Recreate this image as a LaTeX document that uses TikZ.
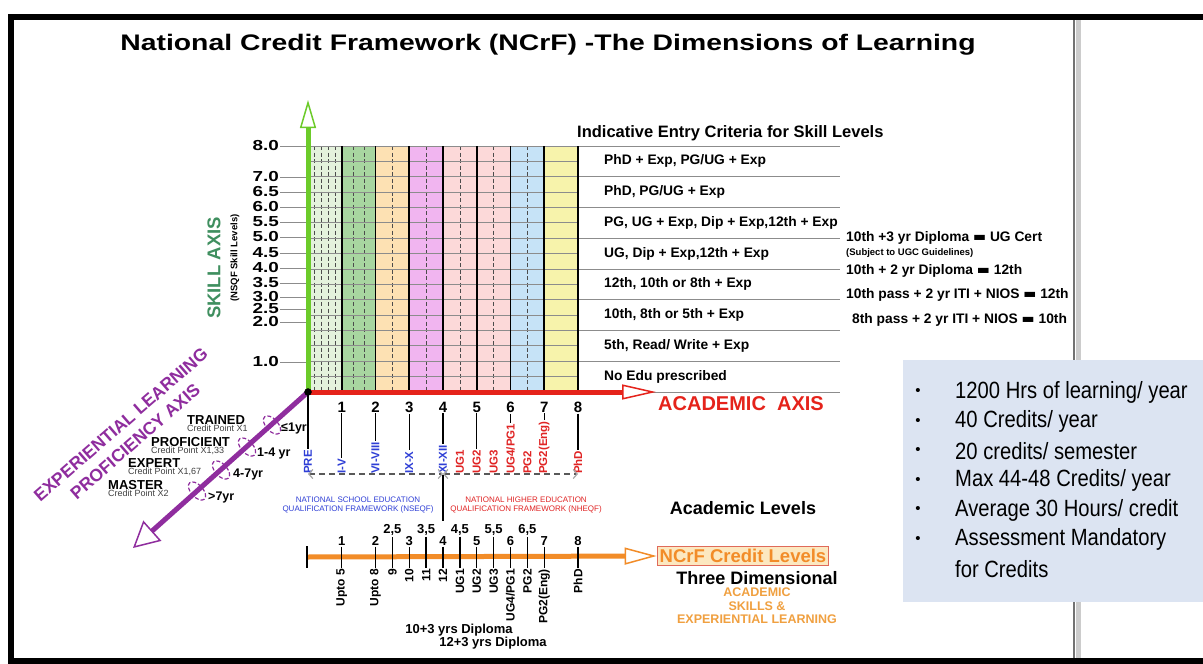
\documentclass[tikz,border=0pt]{standalone}
\usepackage{fontspec}
\setmainfont{Liberation Sans}
\newfontfamily\narrowfont[FakeStretch=0.86]{Liberation Sans}
\newfontfamily\widefont[FakeStretch=1.26]{Liberation Sans}
\newfontfamily\lvlfont[FakeStretch=1.3]{Liberation Sans}
\newfontfamily\symfont{DejaVu Sans}
\usetikzlibrary{arrows.meta,positioning}

\definecolor{axisgreen}{HTML}{6CCB2A}
\definecolor{skillgreen}{HTML}{3F8F5F}
\definecolor{axisred}{HTML}{E5231B}
\definecolor{axispurple}{HTML}{8F2D9E}
\definecolor{axisorange}{HTML}{F28C28}
\definecolor{orangetext}{HTML}{F0A040}
\definecolor{schoolblue}{HTML}{2F3FD6}
\definecolor{higherred}{HTML}{E02424}
\definecolor{boxblue}{HTML}{DCE4F2}
\definecolor{ncrffill}{HTML}{FCE8C0}
\definecolor{ncrfdraw}{HTML}{E06A5A}
\definecolor{col0}{HTML}{E4F2DC}
\definecolor{col1}{HTML}{A8D6A0}
\definecolor{col2}{HTML}{FDE1B3}
\definecolor{col3}{HTML}{F1B5F0}
\definecolor{col4}{HTML}{FCD9D9}
\definecolor{col5}{HTML}{FCD9D9}
\definecolor{col6}{HTML}{C6E3F7}
\definecolor{col7}{HTML}{F7F3AB}

\newcommand\fsz[1]{\fontsize{#1}{#1}\selectfont}
\newcommand\eqbar{{\symfont\char"25AC}}

\begin{document}
\begin{tikzpicture}[x=1pt,y=-1pt]
\tikzstyle{axis}=[line width=5pt]
\tikzstyle{gridline}=[black!45,line width=0.8pt]
\tikzstyle{griddash}=[black!70,line width=0.7pt,dash pattern=on 4pt off 2.5pt]
\tikzstyle{lvl}=[anchor=east,font=\lvlfont\fsz{14.5}\bfseries,inner sep=1pt]
\tikzstyle{crit}=[anchor=west,font=\fsz{13.8}\bfseries,inner sep=0pt]
\tikzstyle{num}=[font=\fsz{15}\bfseries,inner sep=1pt]
\tikzstyle{cnum}=[font=\fsz{13}\bfseries,inner sep=1pt]
\tikzstyle{vlabel}=[rotate=90,font=\fsz{11.5}\bfseries,inner sep=1pt]
\tikzstyle{tick}=[black,line width=1.3pt]
\tikzstyle{ring}=[axispurple,line width=1.2pt,dash pattern=on 4pt off 2pt]
\tikzstyle{expname}=[anchor=west,font=\fsz{13}\bfseries,inner sep=0pt]
\tikzstyle{credit}=[anchor=north west,font=\fsz{9},text=black!75,inner sep=0pt]
\tikzstyle{yrs}=[anchor=west,font=\fsz{12.5}\bfseries,inner sep=0pt]
\tikzstyle{fwline}=[black!65,line width=1.2pt,dash pattern=on 6pt off 4pt,
  {Straight Barb[length=4pt,width=9pt,color=black!35]}-{Straight Barb[length=4pt,width=9pt,color=black!35]}]
\tikzstyle{fwtext}=[align=center,font=\fontsize{8}{9}\selectfont,inner sep=0pt]
\tikzstyle{bulltext}=[anchor=west,font=\narrowfont\fsz{23.5},inner sep=0pt]

\useasboundingbox (0,0) rectangle (1203,664);
% slide frame
\fill[white] (0,0) rectangle (1203,664);
\draw[line width=6pt] (1203,17) -- (11,17) -- (11,661) -- (1203,661);
\draw[black!20,line width=5pt] (1078,20) -- (1078,658);
\draw[black!55,line width=1.5pt] (1074,20) -- (1074,658);
\node[font=\widefont\fsz{22.5}\bfseries] (title) at (548,45) {National Credit Framework (NCrF) -The Dimensions of Learning};

% coloured columns of the grid
\foreach \c [count=\i from 0] in {col0,col1,col2,col3,col4,col5,col6,col7}
  \fill[\c] ({308+33.75*\i},146) rectangle ({341.75+33.75*\i},392);
\foreach \xx in {314.75,321.5,328.25,335,353,364.25,392.4,426.1,459.9,493.6,527.4}
  \draw[griddash] (\xx,146) -- (\xx,392);
\foreach \i in {0,...,16}
  \draw[gridline] (308,{146+15.375*\i}) -- (578,{146+15.375*\i});
\foreach \i in {0,...,8}
  \draw[gridline] (578,{146+30.75*\i}) -- (840,{146+30.75*\i});
\foreach \k in {1,...,8}
  \draw[line width=1.8pt] ({308+33.75*\k},146) -- ({308+33.75*\k},392);

% skill levels
\coordinate (O) at (308,392);
\foreach \v/\yy [count=\n] in {8.0/146,7.0/177,6.5/192,6.0/207,5.5/222,5.0/237,4.5/253,
    4.0/268,3.5/283,3.0/297,2.5/309,2.0/322,1.0/362}{
  \node[lvl] (s\n) at (280,\yy) {\v};
  \draw[gridline] (s\n) -- (s\n -| O);
}
\node[rotate=90,font=\fsz{18.5}\bfseries,text=skillgreen] (skill) at (214,268) {SKILL AXIS};
\node[rotate=90,font=\fsz{9.5}\bfseries] (nsqf) at (235,258) {(NSQF Skill Levels)};

% entry criteria
\node[anchor=west,font=\fsz{16.5}\bfseries,inner sep=0pt] (crit) at (577,133) {Indicative Entry Criteria for Skill Levels};
\foreach \t [count=\i] in {{PhD + Exp, PG/UG + Exp},{PhD, PG/UG + Exp},
    {PG, UG + Exp, Dip + Exp,12th + Exp},{UG, Dip + Exp,12th + Exp},
    {12th, 10th or 8th + Exp},{10th, 8th or 5th + Exp},{5th, Read/ Write + Exp},
    {No Edu prescribed}}
  \node[crit] (c\i) at (604,{130.65+30.75*\i}) {\t};
\node[crit] (n1) at (846,238) {10th +3 yr Diploma \eqbar{} UG Cert};
\node[crit,font=\fsz{9.5}\bfseries] (n2) at (846,253) {(Subject to UGC Guidelines)};
\node[crit] (n3) at (846,271) {10th + 2 yr Diploma \eqbar{} 12th};
\node[crit] (n4) at (846,295) {10th pass + 2 yr ITI + NIOS \eqbar{} 12th};
\node[crit] (n5) at (852,320) {8th pass + 2 yr ITI + NIOS \eqbar{} 10th};

% the three axes
\coordinate (Stip) at (308,100);
\coordinate (Atip) at (656,392);
\coordinate (Ptip) at (133,548);
\draw[axis,axisgreen,-{Triangle[length=28pt,width=16pt,line width=1.5pt,fill=white]}] (O) -- (Stip);
\draw[axis,axisred,-{Triangle[length=34pt,width=15pt,line width=1.5pt,fill=white]}] (O) -- (Atip);
\draw[axis,axispurple,-{Triangle[length=26pt,width=27pt,line width=1.5pt,fill=white]}] (O) -- (Ptip);
\filldraw (O) circle [radius=3.5pt];
\node[font=\fsz{20}\bfseries,text=axisred] (acad) at (741,404) {ACADEMIC\ \ AXIS};

% experiential learning axis
\node[rotate=41,align=center,font=\fontsize{17.5}{22}\selectfont\bfseries,text=axispurple,inner sep=0pt]
  (exp) at (128,433) {EXPERIENTIAL LEARNING\\PROFICIENCY AXIS};
\foreach \nm/\cp/\xx/\yy [count=\i] in {TRAINED/X1/187/420,PROFICIENT/{X1,33}/151/442,
    EXPERT/{X1,67}/128/463,MASTER/X2/108/485}{
  \node[expname] (e\i) at (\xx,\yy) {\nm};
  \node[credit] (p\i) at (e\i.south west) {Credit Point \cp};
}
\foreach \ex/\ey in {272/425,247/447,221/470,197/491}
  \draw[ring,rotate around={-48:(\ex,\ey)}] (\ex,\ey) ellipse [x radius=11,y radius=6];
\node[yrs] (y1) at (281,428) {≤1yr};
\node[yrs] (y2) at (257,453) {1-4 yr};
\node[yrs] (y3) at (233,474) {4-7yr};
\node[yrs] (y4) at (208,497) {>7yr};

% academic levels
\foreach \k in {1,...,8}
  \node[num] (a\k) at ({308+33.75*\k},407) {\k};
\foreach \t/\p/\c [count=\i] in {PRE/0/schoolblue,I-V/1/schoolblue,VI-VIII/2/schoolblue,
    IX-X/3/schoolblue,XI-XII/4/schoolblue,UG1/4.5/higherred,UG2/5/higherred,
    UG3/5.5/higherred,{UG4/PG1}/6/higherred,PG2/6.5/higherred,PG2(Eng)/7/higherred,
    PhD/8/higherred}
  \node[vlabel,anchor=west,text=\c] (L\i) at ({308+33.75*\p},475) {\t};
\draw[tick] (O) -- (L1);
\foreach \k/\j in {1/2,2/3,3/4,4/5,5/7,6/9,7/11,8/12}
  \draw[tick] (a\k) -- (L\j);
\coordinate (fw0) at (308,474);
\coordinate (fw1) at (443,474);
\coordinate (fw2) at (578,474);
\coordinate (sep) at (443,521);
\draw[fwline] (fw0) -- (fw1);
\draw[fwline] (fw1) -- (fw2);
\draw[tick] (L5.west) -- (sep);
\node[fwtext,text=schoolblue] (nseqf) at (358,505) {NATIONAL SCHOOL EDUCATION\\QUALIFICATION FRAMEWORK (NSEQF)};
\node[fwtext,text=higherred] (nheqf) at (526,505) {NATIONAL HIGHER EDUCATION\\QUALIFICATION FRAMEWORK (NHEQF)};
\node[font=\fsz{18}\bfseries] (levels) at (743,508) {Academic Levels};

% credit levels
\node[draw=ncrfdraw,fill=ncrffill,line width=1.2pt,text=axisorange,font=\fsz{18.5}\bfseries,
  inner sep=2.5pt] (ncrf) at (743,556) {NCrF Credit Levels};
\coordinate (C0) at (307,557);
\draw[axis,axisorange,-{Triangle[length=32pt,width=17pt,line width=1.5pt,fill=white]}] (C0) -- (ncrf.west);
\draw[tick] ([yshift=11pt]C0) -- ([yshift=-11pt]C0);
\foreach \p/\tp/\ty/\bt [count=\i] in {1/1/541/{Upto 5},2/2/541/{Upto 8},2.5/{2,5}/530/9,
    3/3/541/10,3.5/{3,5}/530/11,4/4/541/12,4.5/{4,5}/530/UG1,5/5/541/UG2,
    5.5/{5,5}/530/UG3,6/6/541/{UG4/PG1},6.5/{6,5}/530/PG2,7/7/541/PG2(Eng),8/8/541/PhD}{
  \node[cnum] (t\i) at ({308+33.75*\p},\ty) {\tp};
  \node[vlabel,font=\fsz{12}\bfseries,anchor=east] (b\i) at ({308+33.75*\p},568) {\bt};
  \draw[tick] (t\i) -- (b\i);
}
\node[font=\fsz{13}\bfseries] (dip10) at (459,630) {10+3 yrs Diploma};
\node[font=\fsz{13}\bfseries] (dip12) at (493,643) {12+3 yrs Diploma};
\node[font=\fsz{18}\bfseries] (three) at (757,578) {Three Dimensional};
\node[align=center,font=\fontsize{12.5}{13.5}\selectfont\bfseries,text=orangetext] (dims) at (757,606)
  {ACADEMIC\\SKILLS \&\\EXPERIENTIAL LEARNING};

% credit facts
\fill[boxblue] (903,360) rectangle (1203,602);
\foreach \t [count=\i] in {1200 Hrs of learning/ year,40 Credits/ year,20 credits/ semester,
    Max 44-48 Credits/ year,Average 30 Hours/ credit,Assessment Mandatory}{
  \node[font=\fsz{15}] (d\i) at (918,{362.5+29.5*\i}) {\textbullet};
  \node[bulltext] (u\i) at (955,{362.5+29.5*\i}) {\t};
}
\node[bulltext] (u7) at (955,569) {for Credits};
\end{tikzpicture}
\end{document}
